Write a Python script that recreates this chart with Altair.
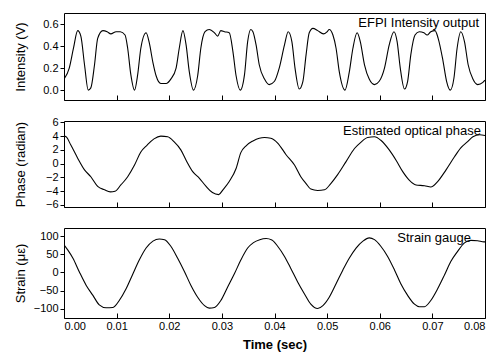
import altair as alt
import pandas as pd

# ---------------- data ----------------
int_t = [0.0000, 0.0010, 0.0018, 0.0026, 0.0032, 0.0039, 0.0046, 0.0051, 0.0058, 0.0064,
         0.0074, 0.0082, 0.0089, 0.0099, 0.0107, 0.0116, 0.0121, 0.0127, 0.0134, 0.0140,
         0.0146, 0.0156, 0.0162, 0.0169, 0.0175, 0.0184, 0.0194, 0.0203, 0.0213, 0.0219,
         0.0226, 0.0232, 0.0238, 0.0246, 0.0254, 0.0260, 0.0268, 0.0276, 0.0286, 0.0292,
         0.0298, 0.0305, 0.0314, 0.0321, 0.0327, 0.0335, 0.0343, 0.0349, 0.0355, 0.0359,
         0.0365, 0.0371, 0.0381, 0.0390, 0.0400, 0.0409, 0.0419, 0.0426, 0.0433, 0.0439,
         0.0447, 0.0454, 0.0460, 0.0466, 0.0473, 0.0482, 0.0493, 0.0500, 0.0504, 0.0511,
         0.0517, 0.0523, 0.0534, 0.0542, 0.0549, 0.0557, 0.0563, 0.0571, 0.0580, 0.0590,
         0.0599, 0.0609, 0.0618, 0.0627, 0.0633, 0.0639, 0.0647, 0.0653, 0.0659, 0.0667,
         0.0675, 0.0684, 0.0690, 0.0697, 0.0705, 0.0711, 0.0720, 0.0727, 0.0734, 0.0741,
         0.0747, 0.0754, 0.0761, 0.0768, 0.0777, 0.0786, 0.0796, 0.0800]
int_v = [0.10, 0.20, 0.38, 0.54, 0.49, 0.23, 0.00, 0.02, 0.23, 0.47,
         0.54, 0.53, 0.51, 0.53, 0.53, 0.50, 0.38, 0.14, 0.00, 0.14,
         0.38, 0.52, 0.43, 0.25, 0.13, 0.06, 0.06, 0.10, 0.20, 0.38,
         0.54, 0.41, 0.17, 0.00, 0.13, 0.38, 0.53, 0.55, 0.52, 0.49,
         0.54, 0.53, 0.52, 0.35, 0.13, 0.00, 0.14, 0.44, 0.55, 0.53,
         0.41, 0.23, 0.10, 0.05, 0.08, 0.20, 0.41, 0.53, 0.44, 0.20,
         0.01, 0.08, 0.32, 0.52, 0.56, 0.54, 0.51, 0.53, 0.55, 0.50,
         0.38, 0.17, 0.00, 0.16, 0.38, 0.52, 0.44, 0.23, 0.10, 0.05,
         0.08, 0.20, 0.41, 0.53, 0.44, 0.20, 0.01, 0.08, 0.32, 0.50,
         0.53, 0.52, 0.50, 0.53, 0.54, 0.47, 0.27, 0.08, 0.00, 0.11,
         0.38, 0.53, 0.44, 0.23, 0.10, 0.05, 0.07, 0.09]

ph_t = [0.0000, 0.0004, 0.0013, 0.0026, 0.0039, 0.0051, 0.0064, 0.0077, 0.0088, 0.0097,
        0.0108, 0.0121, 0.0134, 0.0146, 0.0158, 0.0171, 0.0184, 0.0197, 0.0209, 0.0222,
        0.0232, 0.0245, 0.0257, 0.0270, 0.0282, 0.0294, 0.0302, 0.0314, 0.0327, 0.0336,
        0.0346, 0.0359, 0.0371, 0.0381, 0.0393, 0.0406, 0.0422, 0.0438, 0.0450, 0.0460,
        0.0469, 0.0482, 0.0495, 0.0507, 0.0520, 0.0536, 0.0552, 0.0564, 0.0577, 0.0590,
        0.0602, 0.0618, 0.0631, 0.0644, 0.0656, 0.0669, 0.0685, 0.0697, 0.0710, 0.0726,
        0.0742, 0.0754, 0.0767, 0.0777, 0.0790, 0.0800]
ph_v = [4.0, 3.9, 2.7, 0.8, -0.9, -1.9, -3.3, -3.8, -4.1, -4.0,
        -3.1, -1.9, -0.2, 1.7, 2.7, 3.6, 4.0, 3.9, 3.2, 2.0,
        0.5, -1.2, -2.1, -3.3, -4.2, -4.5, -3.8, -2.6, -0.7, 1.6,
        2.6, 3.3, 3.7, 3.8, 3.7, 3.0, 1.3, -0.2, -1.9, -2.9,
        -3.7, -3.9, -3.8, -2.9, -1.6, 0.3, 2.2, 3.1, 3.8, 3.9,
        3.4, 2.0, 0.5, -1.2, -2.4, -3.1, -3.2, -3.4, -2.6, -0.9,
        1.0, 2.3, 3.2, 3.9, 4.2, 4.1]

st_t = [0.0000, 0.0007, 0.0017, 0.0029, 0.0042, 0.0055, 0.0067, 0.0080, 0.0093, 0.0105,
        0.0118, 0.0130, 0.0143, 0.0156, 0.0169, 0.0181, 0.0191, 0.0203, 0.0216, 0.0229,
        0.0241, 0.0254, 0.0267, 0.0276, 0.0286, 0.0298, 0.0311, 0.0324, 0.0336, 0.0349,
        0.0360, 0.0372, 0.0384, 0.0395, 0.0406, 0.0419, 0.0431, 0.0444, 0.0457, 0.0469,
        0.0482, 0.0492, 0.0504, 0.0517, 0.0530, 0.0542, 0.0555, 0.0568, 0.0580, 0.0590,
        0.0602, 0.0615, 0.0628, 0.0640, 0.0653, 0.0666, 0.0675, 0.0685, 0.0697, 0.0710,
        0.0723, 0.0735, 0.0748, 0.0761, 0.0773, 0.0786, 0.0798, 0.0800]
st_v = [76, 62, 39, 2, -35, -63, -89, -97, -96, -77,
        -45, -7, 34, 67, 86, 92, 90, 72, 39, 2,
        -35, -68, -91, -98, -96, -77, -40, -3, 34, 67,
        82, 90, 93, 89, 72, 44, 11, -26, -59, -87,
        -99, -91, -68, -31, 7, 39, 67, 86, 95, 90,
        72, 44, 7, -31, -63, -87, -94, -94, -77, -45,
        -7, 30, 58, 81, 88, 87, 84, 84]

x_ticks = [0.00, 0.01, 0.02, 0.03, 0.04, 0.05, 0.06, 0.07, 0.08]
int_ticks = [0.0, 0.2, 0.4, 0.6]
ph_ticks = [-6, -4, -2, 0, 2, 4, 6]
st_ticks = [-100, -50, 0, 50, 100]

FONT = "Liberation Sans"
W = 421


def panel(t, v, h, ydom, yticks, yfmt, ytitle, label, label_dx, bottom):
    df = pd.DataFrame({"t": t, "v": v})
    xaxis = alt.Axis(values=x_ticks, format=".2f", labels=bottom,
                     titleFontWeight="bold", titlePadding=7)
    yaxis = alt.Axis(values=yticks, format=yfmt, tickSize=4, labelPadding=2,
                     titleX=-37, titleY=h / 2, titleAlign="center")
    line = alt.Chart(df).mark_line(color="black", strokeWidth=1.1,
                                   interpolate="monotone", clip=True).encode(
        x=alt.X("t:Q", scale=alt.Scale(domain=[0, 0.08], nice=False, zero=False),
                axis=xaxis, title="Time (sec)" if bottom else None),
        y=alt.Y("v:Q", scale=alt.Scale(domain=ydom, nice=False, zero=False),
                axis=yaxis, title=ytitle),
    )
    txt = alt.Chart(pd.DataFrame({"label": [label]})).mark_text(
        align="right", baseline="middle", fontSize=13, font=FONT, color="black"
    ).encode(text="label:N", x=alt.value(W - label_dx), y=alt.value(10))
    return alt.layer(line, txt).properties(width=W, height=h)


p1 = panel(int_t, int_v, 87, [-0.09, 0.7], int_ticks, ".1f", "Intensity (V)",
           "EFPI Intensity output", 6, False)
p2 = panel(ph_t, ph_v, 86, [-6.3, 6.2], ph_ticks, "d", "Phase (radian)",
           "Estimated optical phase", 4, False)
p3 = panel(st_t, st_v, 90, [-125, 122], st_ticks, "d", "Strain (με)",
           "Strain gauge", 14, True)

chart = alt.vconcat(p1, p2, p3, spacing=21, bounds="flush").properties(
    padding={"left": 5, "top": 4, "right": 5, "bottom": 5}
).configure_view(stroke="black", strokeWidth=1).configure_axis(
    domain=False, grid=False, labelFont=FONT, titleFont=FONT, labelFontSize=11,
    titleFontSize=13, labelColor="black", titleColor="black", tickColor="black",
    titleFontWeight="normal"
).configure_axisX(offset=-5, tickSize=5, labelPadding=2)

chart.save("out.html", embed_options={"renderer": "svg", "actions": False})
